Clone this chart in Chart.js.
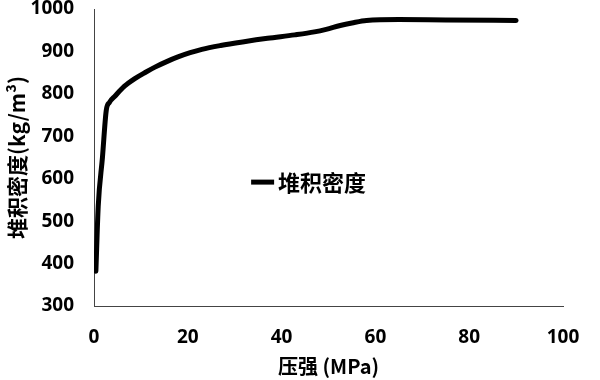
<!DOCTYPE html>
<html>
<head>
<meta charset="utf-8">
<script src="https://cdn.jsdelivr.net/npm/chart.js@4"></script>
<style>
  html, body { margin: 0; padding: 0; background: #fff; }
  #wrap { width: 600px; height: 380px; }
</style>
</head>
<body>
<div id="wrap"><canvas id="c" width="600" height="380"></canvas></div>
<script>
// pressure (MPa) vs bulk density (kg/m3)
const pressure = [0.4, 0.9, 1.8, 2.6, 3.3, 4.5, 6.5, 8.7, 11, 13, 15.5, 17.9, 20.5, 23, 27, 32, 37, 42.8, 47, 49.5, 52.5, 55, 58.1, 65, 75, 90];
const density  = [382, 535, 650, 760, 780, 795, 818, 836, 851, 863, 876, 887, 897, 905, 914, 923, 931, 939, 946, 952, 961, 967, 973, 975, 974, 973];

const seriesName = '堆积密度';
const xTitle = '压强 (MPa)';
const yTitle = '堆积密度(kg/m³)';

const cjk = '"Noto Sans CJK SC", "Open Sans", sans-serif';
const num = '"Open Sans", "Liberation Sans", sans-serif';

// legend drawn inside the plot, anchored in data units
const legendBox = {
  id: 'legendBox',
  afterDraw(chart) {
    const { ctx, scales } = chart;
    const x0 = scales.x.getPixelForValue(33.5);
    const y0 = scales.y.getPixelForValue(592);
    ctx.save();
    ctx.strokeStyle = '#000';
    ctx.lineWidth = 5;
    ctx.beginPath();
    ctx.moveTo(x0, y0);
    ctx.lineTo(x0 + 23, y0);
    ctx.stroke();
    ctx.fillStyle = '#000';
    ctx.font = 'bold 22px ' + cjk;
    ctx.textBaseline = 'middle';
    ctx.fillText(seriesName, x0 + 27, y0 + 1);
    ctx.restore();
  }
};

new Chart(document.getElementById('c'), {
  type: 'line',
  data: {
    datasets: [{
      label: seriesName,
      data: pressure.map((p, i) => ({ x: p, y: density[i] })),
      borderColor: '#000',
      borderWidth: 5,
      borderJoinStyle: 'round',
      borderCapStyle: 'round',
      pointRadius: 0,
      cubicInterpolationMode: 'monotone',
      fill: false
    }]
  },
  options: {
    responsive: false,
    animation: false,
    layout: { padding: { top: 9, right: 37, left: 0, bottom: 0 } },
    plugins: {
      legend: { display: false },
      tooltip: { enabled: false }
    },
    scales: {
      x: {
        type: 'linear',
        min: 0, max: 100,
        ticks: { stepSize: 20, color: '#000', font: { family: num, size: 19, weight: 'bold' }, padding: 20 },
        grid: { display: false, drawTicks: false },
        border: { display: true, color: '#444', width: 1 },
        title: { display: true, text: xTitle, color: '#000', font: { family: cjk, size: 20, weight: 'bold' }, padding: { top: 0, bottom: 2 } },
        afterFit(s) { s.height = 74; }
      },
      y: {
        min: 300, max: 1000,
        ticks: { stepSize: 100, color: '#000', font: { family: num, size: 19, weight: 'bold' }, padding: 20, callback: v => String(v) },
        grid: { display: false, drawTicks: false },
        border: { display: true, color: '#444', width: 1 },
        title: { display: true, text: yTitle, color: '#000', font: { family: cjk, size: 21, weight: 'bold' }, padding: { bottom: 0 } },
        afterFit(s) { s.width = 94; s.paddingTop = 0; s.paddingBottom = 0; }
      }
    }
  },
  plugins: [legendBox]
});
</script>
</body>
</html>
